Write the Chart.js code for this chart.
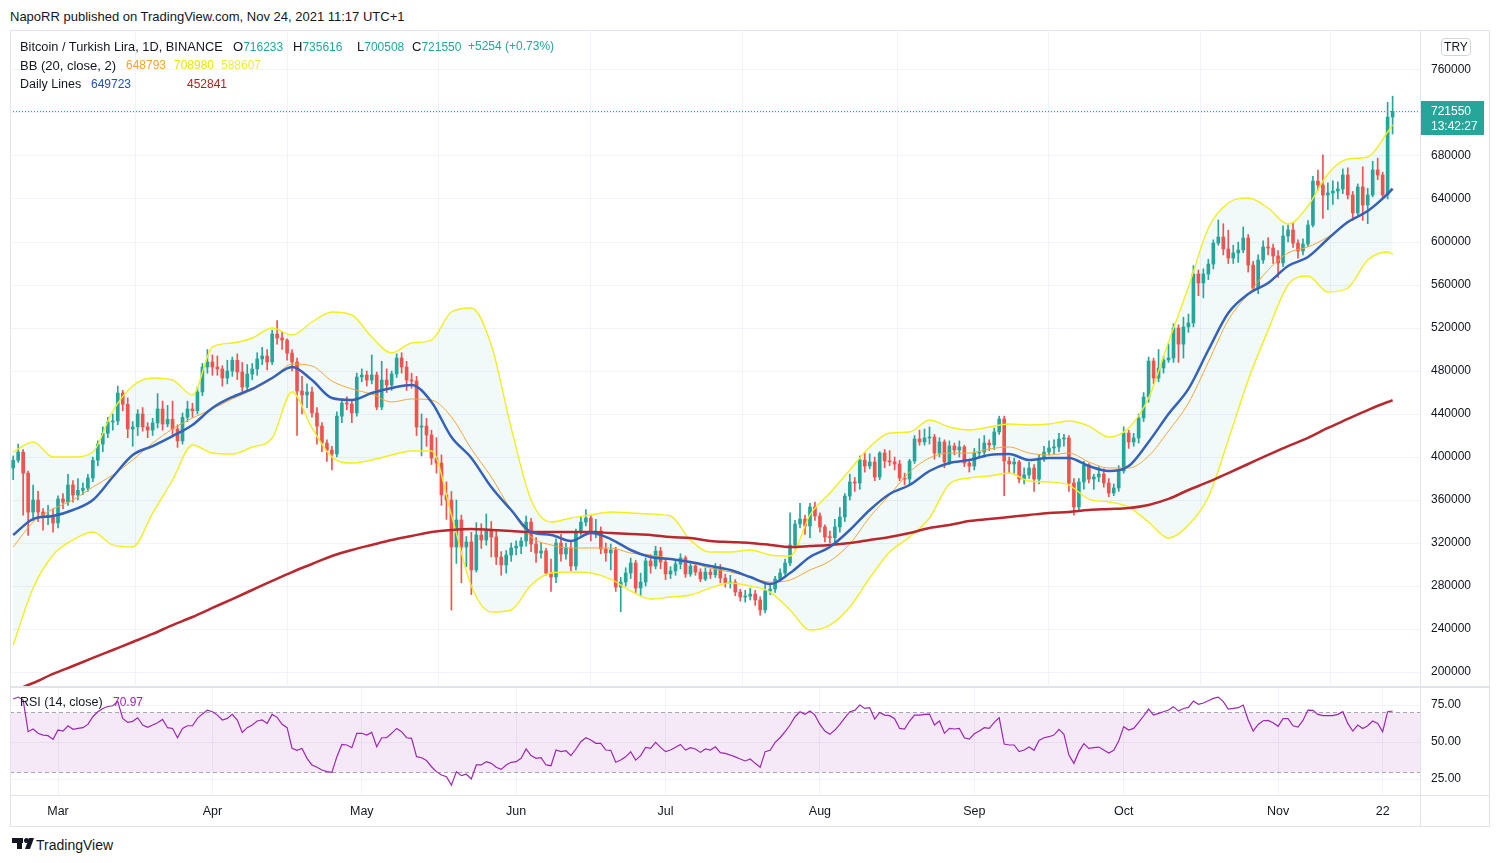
<!DOCTYPE html>
<html>
<head>
<meta charset="utf-8">
<script src="https://cdn.jsdelivr.net/npm/chart.js@4.4.0/dist/chart.umd.min.js"></script>
<style>
  body { margin: 0; background: #fff; font-family: "Liberation Sans", Arial, sans-serif; color: #131722; }
  #page { position: relative; width: 1500px; height: 863px; overflow: hidden; background: #fff; }
  .t { position: absolute; white-space: nowrap; font-size: 13px; line-height: 15px; }
  .n { font-size: 12px; }
  .g { color: #26a69a; }
  .ln { position: absolute; background: #e0e3eb; }
  canvas { position: absolute; }
</style>
</head>
<body>
<div id="page">
  <div class="t" style="left:10px;top:9px">NapoRR published on TradingView.com, Nov 24, 2021 11:17 UTC+1</div>

  <canvas id="mainChart" width="1480" height="656" style="left:10px;top:30px;width:1480px;height:656px"></canvas>
  <canvas id="rsiChart" width="1480" height="139" style="left:10px;top:687px;width:1480px;height:139px"></canvas>

  <!-- frame and panel separators -->
  <div class="ln" style="left:10px;top:30px;width:1480px;height:1px"></div>
  <div class="ln" style="left:10px;top:826px;width:1480px;height:1px"></div>
  <div class="ln" style="left:10px;top:30px;width:1px;height:797px"></div>
  <div class="ln" style="left:1489px;top:30px;width:1px;height:797px"></div>
  <div class="ln" style="left:1420px;top:30px;width:1px;height:797px"></div>
  <div class="ln" style="left:10px;top:686px;width:1480px;height:2px"></div>
  <div class="ln" style="left:10px;top:795px;width:1480px;height:1px"></div>

  <!-- legend -->
  <div class="t" style="left:20px;top:39px;font-size:12.8px">Bitcoin / Turkish Lira, 1D, BINANCE</div>
  <div class="t" style="left:233px;top:39px">O<span class="g n">716233</span></div>
  <div class="t" style="left:293px;top:39px">H<span class="g n">735616</span></div>
  <div class="t" style="left:357px;top:39px">L<span class="g n">700508</span></div>
  <div class="t" style="left:412px;top:39px">C<span class="g n">721550</span></div>
  <div class="t g n" style="left:468px;top:39px;line-height:15px">+5254 (+0.73%)</div>

  <div class="t" style="left:20px;top:58px">BB (20, close, 2)</div>
  <div class="t n" style="left:126px;top:58px;color:#f5a623">648793</div>
  <div class="t n" style="left:174px;top:58px;color:#efe300">708980</div>
  <div class="t n" style="left:221px;top:58px;color:#f0ec3a">588607</div>

  <div class="t" style="left:20px;top:77px;font-size:12.5px">Daily Lines</div>
  <div class="t n" style="left:91px;top:77px;color:#1f4fc0">649723</div>
  <div class="t n" style="left:187px;top:77px;color:#b71c1c">452841</div>

  <div class="t" style="left:20px;top:695px;font-size:12.5px">RSI (14, close)</div>
  <div class="t n" style="left:113px;top:695px;color:#9c27b0">70.97</div>

  <div style="position:absolute;left:1441px;top:38px;width:28px;height:16px;border:1px solid #d1d4dc;border-radius:4px;font-size:12px;line-height:16px;text-align:center;">TRY</div>

  <!-- logo -->
  <div style="position:absolute;left:12px;top:838px;width:11px;height:5px;background:#131722"></div>
  <div style="position:absolute;left:17px;top:843px;width:5px;height:6px;background:#131722"></div>
  <div style="position:absolute;left:24px;top:838px;width:5px;height:5px;border-radius:50%;background:#131722"></div>
  <div style="position:absolute;left:27px;top:838px;width:5px;height:11px;background:#131722;transform:skewX(-20deg)"></div>
  <div class="t" style="left:36px;top:837px;font-size:14px;line-height:16px">TradingView</div>
</div>

<script>
// day index: 0 = Mar 1 2021, first candle -9 (Feb 20), last 268 (Nov 24)
const firstDay = -9;
const firstOpen = 389.8;   // thousands of TRY

const closes = [397.0,404.6,385.0,348.8,360.0,348.8,344.0,346.0,338.6,
  361.0,358.0,374.0,364.7,369.0,371.0,380.5,397.0,412.0,422.0,
  432.6,433.5,459.5,449.0,426.0,428.0,440.0,428.0,425.0,431.7,
  444.7,430.7,435.0,426.0,415.0,437.0,444.7,443.0,460.5,483.7,
  488.4,483.7,481.9,473.5,480.0,490.0,479.1,465.1,477.2,481.9,
  491.2,494.0,488.4,514.4,510.7,508.8,496.7,488.4,461.4,457.7,
  460.5,441.0,428.8,413.0,406.5,402.8,438.0,450.2,449.3,441.0,
  474.4,476.3,471.6,476.3,446.5,471.6,467.0,477.2,492.1,483.7,
  471.6,470.7,427.9,428.8,420.5,399.0,394.4,364.7,360.0,316.3,
  341.4,316.3,321.0,295.0,327.5,322.8,332.1,325.6,307.0,299.6,
  308.8,315.4,317.0,321.9,339.5,319.1,310.7,312.6,292.1,288.4,
  320.0,309.8,315.4,298.6,330.2,339.5,343.3,329.3,331.2,314.4,
  310.7,313.5,279.1,283.7,292.1,301.4,278.2,283.7,303.3,298.6,
  312.6,302.3,291.2,294.0,300.5,306.1,291.2,298.6,293.0,286.5,
  293.0,290.5,297.2,287.4,282.8,283.7,274.4,269.8,270.5,272.6,
  267.0,257.7,275.4,277.2,286.5,292.1,301.4,318.2,337.7,342.3,
  335.8,353.5,345.2,334.9,325.6,325.0,334.9,344.2,363.7,376.8,
  375.8,397.2,391.6,395.4,381.4,403.7,396.3,395.5,393.5,380.5,
  379.5,396.3,416.8,414.0,417.7,418.6,403.7,414.0,395.4,410.3,
  406.5,409.4,394.4,391.6,403.7,404.6,413.0,411.2,423.3,435.4,
  396.3,393.5,395.4,379.5,383.3,389.8,379.5,399.0,404.6,408.4,
  409.4,416.8,417.7,375.8,353.5,376.8,392.6,379.5,381.4,384.2,
  375.8,366.5,371.2,387.0,422.3,414.0,417.7,436.3,455.8,489.3,
  473.5,482.8,490.3,492.1,520.0,505.0,521.0,524.7,570.2,561.9,
  570.2,579.5,599.0,604.6,593.5,585.1,589.8,592.6,603.7,578.6,
  557.2,583.3,595.4,594.4,587.0,580.5,605.6,611.2,599.0,591.6,
  598.1,615.8,656.7,653.0,643.7,645.6,647.4,649.3,662.3,643.7,
  627.0,651.2,634.4,643.7,667.0,662.3,643.7,716.233,721.55];

const highs = [401,412,407,387,374,368,352,355,352,
  364,366,384,378,380,376,384,400,415,428,
  437,440,466,462,455,433,444,446,432,436,
  459,452,448,452,430,441,452,450,465,487,
  500,495,494,485,490,493,496,488,486,487,
  497,502,500,518,527,516,510,500,492,475,
  468,465,446,432,416,410,442,454,456,452,
  478,482,480,495,479,489,482,480,496,497,
  489,478,475,440,436,425,418,402,377,368,
  360,346,326,330,339,338,347,340,331,312,
  313,320,322,325,345,343,325,320,315,305,
  324,328,320,322,333,344,351,346,342,335,
  320,319,316,288,297,306,304,292,306,309,
  317,316,305,298,304,310,308,302,301,296,
  297,296,301,300,291,290,286,277,276,278,
  276,270,282,281,289,296,305,348,341,357,
  346,357,358,348,337,331,342,353,366,384,
  381,401,404,403,400,405,407,406,400,397,
  385,398,420,425,426,428,421,418,416,415,
  413,415,411,398,408,417,420,416,427,438,
  438,400,399,397,390,395,393,402,410,415,
  416,422,421,420,380,380,396,394,384,391,
  389,380,375,392,428,425,422,440,460,493,
  492,500,494,505,524,523,530,533,578,574,
  575,584,602,620.5,617,611,597,600,614,607,
  582,588,601,604,598,592,615,616,618,602,
  603,620,661,667,681,655,657,656,668,669,
  647,654,670,650,675,678,665,730,735.616];

const lows = [379,395,346,327,341,340,332,337,330,
  334,352,355,358,360,365,368,377,392,405,
  418,425,430,443,418,410,420,424,418,420,
  427,425,428,420,409,412,433,437,440,457,
  478,476,476,466,468,475,472,461,461,472,
  476,486,481,486,505,500,490,480,420,440,
  446,437,412,405,396,388,400,432,444,432,
  438,470,466,468,444,444,460,462,474,478,
  462,464,420,401,410,393,385,355,342,257.7,
  301,283,298,272,293,315,318,307,300,290,
  292,303,309,310,317,312,302,306,290,275,
  283,303,305,294,295,327,336,322,325,310,
  303,295,275,256,280,287,274,271,280,292,
  296,296,286,287,290,296,288,289,290,284,
  285,287,288,283,279,278,271,266,265,267,
  262,253,255,272,274,284,290,299,315,334,
  328,325,341,330,321,320,321,330,340,360,
  368,370,386,389,378,379,390,392,388,378,
  374,375,394,411,411,412,398,400,390,393,
  402,400,391,386,388,400,400,406,407,421,
  364,385,385,376,375,380,368,375,396,402,
  403,405,410,368,346,350,370,376,370,377,
  372,363,364,368,385,408,410,413,433,451,
  468,470,478,488,488,488,492,516,521,550,
  548,565,575,597,588,580,580,581,590,572,
  554,552,580,588,580,567,577,600,595,585,
  588,596,614,648,622,630,635,640,645,640,
  620,625,620,617,642,658,640,640,700.508];

// indicator lines every 4 days
const lineDays = [-9,-5,-1,3,7,11,15,19,23,27,31,35,39,43,47,51,55,59,63,67,71,75,79,83,87,91,95,99,
  103,107,111,115,119,123,127,131,135,139,143,147,151,155,159,163,167,171,175,179,183,187,191,195,199,
  203,207,211,215,219,223,227,231,235,239,243,247,251,255,259,263,267,268];

const bbUpper = [404.7,414.0,400.0,400.0,404.7,442.8,466.1,473.5,471.6,457.7,
  502.3,506.0,510.7,520.0,513.5,525.6,534.9,532.1,511.6,496.8,
  506.0,508.8,534.9,538.6,504.2,427.0,360.0,339.5,343.3,346.1,
  348.9,347.9,347.0,345.1,322.8,311.6,311.6,313.5,308.9,307.9,
  346.1,366.5,387.9,409.3,422.3,423.3,434.4,427.9,425.1,427.9,
  430.7,429.8,430.7,433.5,428.8,418.6,427.0,454.9,507.0,558.1,
  613.0,636.3,640.9,631.6,616.7,633.5,663.3,677.2,679.1,702.3,709.0];

const bbBasis = [316.3,339.5,351.6,360.0,372.1,383.3,397.2,413.0,426.1,436.3,
  444.7,454.0,462.3,472.6,486.5,484.7,470.7,463.3,458.6,451.2,
  454.0,453.0,437.2,407.5,381.4,350.7,325.6,318.2,315.4,315.4,
  315.4,310.7,308.9,305.1,301.4,296.8,293.0,288.4,283.7,285.6,
  294.9,303.3,319.1,344.2,364.7,386.1,399.1,403.7,403.7,407.5,
  409.3,403.7,401.9,403.7,395.4,389.8,389.8,400.9,424.2,450.2,
  488.4,527.4,551.6,573.9,589.8,595.4,604.7,617.7,629.8,643.7,648.8];

const bbLower = [225.1,278.2,308.9,322.8,330.2,318.2,316.3,347.9,378.6,411.2,
  403.7,402.8,409.3,417.7,460.5,427.0,400.0,394.4,397.2,401.9,
  405.6,405.6,346.1,280.0,255.8,257.7,280.9,292.1,293.0,292.1,
  286.5,275.4,267.9,269.8,271.6,278.2,282.8,280.0,274.4,257.7,
  239.1,243.7,260.5,287.5,311.6,325.6,343.3,374.9,380.5,382.3,
  385.1,377.7,376.8,373.9,360.9,358.2,353.5,339.5,324.7,336.8,
  362.8,415.8,471.6,518.1,560.0,568.4,553.5,557.2,583.3,590.7,588.6];

const dailyFast = [327.5,342.3,345.1,350.7,360.0,381.4,401.9,410.2,419.5,429.8,
  445.6,455.8,463.3,473.5,483.7,471.6,454.9,453.0,459.5,464.2,
  467.0,451.2,418.6,399.1,372.1,350.7,330.2,327.5,321.9,329.3,
  323.7,313.5,307.0,305.1,302.3,298.6,294.9,288.4,281.9,292.1,
  307.0,316.3,332.1,350.7,365.6,374.0,387.0,394.4,397.2,401.9,
  402.8,397.2,399.1,399.1,391.6,387.0,391.6,414.0,440.0,463.3,
  499.5,534.0,551.6,561.9,577.7,586.1,602.8,618.6,628.8,644.7,649.7];

const dailySlow = [182.3,189.8,198.2,205.6,213.1,220.5,227.9,235.4,243.7,251.2,
  259.6,267.9,276.3,284.7,293.0,300.5,307.9,313.5,318.2,322.8,
  326.5,330.2,332.1,333.0,332.1,331.2,330.2,330.2,330.2,330.2,
  329.3,328.4,327.5,325.6,324.7,321.9,320.9,320.0,318.2,316.3,
  317.2,318.2,320.0,322.8,325.6,329.3,334.0,336.8,340.5,342.3,
  344.2,346.1,347.9,348.9,350.7,351.6,352.6,355.4,361.0,369.3,
  376.8,385.1,393.5,401.9,410.2,417.7,427.0,435.4,443.7,451.2,452.8];

const rsiValues = [79.1,80.4,78.4,57.0,58.8,55.9,54.7,54.3,51.8,
  58.1,57.4,61.0,58.6,59.2,59.7,61.9,67.1,70.5,72.7,
  74.0,74.5,77.3,66.0,63.3,64.0,66.4,61.5,59.9,61.5,
  63.0,65.3,59.7,59.2,52.9,59.2,61.0,61.0,66.0,69.0,
  71.6,70.5,68.2,64.9,66.0,68.7,64.9,56.5,59.7,61.5,
  64.2,64.9,62.6,68.7,66.7,62.0,59.7,45.7,44.4,45.7,
  39.0,34.5,33.0,31.1,30.0,29.5,40.1,48.4,48.0,46.2,
  55.9,55.9,54.7,56.5,46.8,52.9,52.9,55.9,59.2,57.0,
  52.9,52.5,40.1,39.4,37.5,33.3,30.0,27.7,26.6,20.9,
  30.0,27.3,28.2,25.0,34.5,34.5,36.7,35.6,33.0,31.5,
  34.5,36.3,36.7,39.0,45.3,40.8,39.0,39.4,34.5,34.0,
  44.6,43.5,44.1,40.8,45.3,50.2,52.9,51.4,49.1,49.1,
  44.6,44.4,36.3,37.8,40.0,43.5,37.8,40.8,46.4,45.7,
  49.8,46.4,43.5,44.6,46.5,48.4,44.6,46.2,45.3,43.0,
  45.3,44.6,46.8,42.8,42.3,41.2,40.0,38.5,37.2,38.5,
  35.6,32.9,43.5,44.4,49.8,52.9,57.0,61.5,67.1,70.5,
  68.7,70.9,68.2,61.9,57.4,55.2,58.1,61.9,66.4,70.5,
  71.4,75.0,72.7,73.2,65.5,70.0,68.2,67.8,65.8,59.2,
  58.8,64.2,68.2,68.2,68.7,68.9,61.5,64.2,55.9,59.2,
  58.8,59.2,52.9,52.0,55.6,57.4,59.7,59.2,63.3,66.4,
  48.6,48.0,48.0,43.5,44.6,46.6,44.4,51.1,52.9,53.6,
  54.7,58.6,55.2,41.2,35.6,43.5,48.9,45.7,46.2,46.6,
  44.6,42.6,44.4,50.7,60.4,58.1,59.2,63.3,67.6,72.3,
  68.2,69.4,70.5,71.6,73.9,70.9,72.7,73.4,77.7,75.5,
  76.4,77.9,79.5,80.4,77.3,72.3,72.7,73.2,75.0,64.9,
  57.4,61.9,64.4,64.6,63.1,60.6,65.8,65.8,61.0,60.1,
  64.6,71.6,71.4,68.7,67.8,67.8,67.8,68.7,70.5,62.6,
  57.4,61.5,59.2,61.0,64.2,62.6,57.0,70.5,70.97];

const monthDays = [0, 31, 61, 92, 122, 153, 184, 214, 245, 266];
const monthLabels = ['Mar', 'Apr', 'May', 'Jun', 'Jul', 'Aug', 'Sep', 'Oct', 'Nov', '22'];
const priceTicks = [200000,240000,280000,320000,360000,400000,440000,480000,520000,560000,600000,640000,680000,720000,760000];
const rsiTicks = [25, 50, 75];

const K = 1000;
const green = '#26a69a', red = '#ef5350';
const xMin = -9.64, xMax = 273.5;
const axisFont = { family: '"Liberation Sans", Arial, sans-serif', size: 12 };

const days = closes.map((c, i) => firstDay + i);
const opens = closes.map((c, i) => i === 0 ? firstOpen : closes[i - 1]);
const candleColors = closes.map((c, i) => c >= opens[i] ? green : red);
const lastClose = closes[closes.length - 1] * K;

const toLine = arr => lineDays.map((d, i) => ({ x: d, y: arr[i] * K }));

const priceLinePlugin = {
  id: 'priceLine',
  beforeDatasetsDraw(chart) {
    const { ctx, chartArea, scales } = chart;
    const y = Math.round(scales.y.getPixelForValue(lastClose)) + 0.5;
    ctx.save();
    ctx.strokeStyle = green;
    ctx.lineWidth = 1;
    ctx.setLineDash([1, 2]);
    ctx.beginPath();
    ctx.moveTo(chartArea.left, y);
    ctx.lineTo(chartArea.right, y);
    ctx.stroke();
    ctx.restore();
  },
  afterDraw(chart) {
    const { ctx, chartArea, scales } = chart;
    const y = Math.round(scales.y.getPixelForValue(lastClose));
    ctx.save();
    ctx.fillStyle = green;
    ctx.fillRect(chartArea.right + 1, y - 10, 63, 34);
    ctx.fillStyle = '#fff';
    ctx.font = '12px "Liberation Sans", Arial, sans-serif';
    ctx.textBaseline = 'middle';
    ctx.fillText('721550', chartArea.right + 11, y + 1);
    ctx.fillText('13:42:27', chartArea.right + 11, y + 16);
    ctx.restore();
  }
};

const mainCtx = document.getElementById('mainChart').getContext('2d');
new Chart(mainCtx, {
  type: 'bar',
  data: {
    datasets: [
      { type: 'line', data: toLine(bbUpper), borderColor: '#f2ef1c', borderWidth: 1.4, pointRadius: 0,
        cubicInterpolationMode: 'monotone', fill: '+1', backgroundColor: 'rgba(38,166,154,0.06)', order: 5 },
      { type: 'line', data: toLine(bbLower), borderColor: '#f2ef1c', borderWidth: 1.4, pointRadius: 0,
        cubicInterpolationMode: 'monotone', fill: false, order: 5 },
      { type: 'line', data: toLine(bbBasis), borderColor: '#f3a63c', borderWidth: 1, pointRadius: 0,
        cubicInterpolationMode: 'monotone', fill: false, order: 4 },
      { type: 'line', data: toLine(dailySlow), borderColor: '#b8282e', borderWidth: 2.5, pointRadius: 0,
        cubicInterpolationMode: 'monotone', fill: false, order: 3 },
      { type: 'line', data: toLine(dailyFast), borderColor: '#3462b8', borderWidth: 2.5, pointRadius: 0,
        cubicInterpolationMode: 'monotone', fill: false, order: 2 },
      { type: 'bar', data: days.map((d, i) => ({ x: d, y: [lows[i] * K, highs[i] * K] })),
        backgroundColor: candleColors, barThickness: 1, grouped: false, order: 10 },
      { type: 'bar', data: days.map((d, i) => ({ x: d, y: [opens[i] * K, closes[i] * K] })),
        backgroundColor: candleColors, barThickness: 3, minBarLength: 1, grouped: false, order: 9 }
    ]
  },
  options: {
    responsive: false,
    animation: false,
    devicePixelRatio: 1,
    layout: { padding: 0 },
    plugins: {
      legend: { display: false },
      tooltip: { enabled: false },
      filler: { drawTime: 'beforeDatasetsDraw' }
    },
    scales: {
      x: {
        type: 'linear', min: xMin, max: xMax, offset: false,
        grid: { color: '#f0f3fa', drawTicks: false },
        border: { display: false },
        ticks: { display: false },
        afterBuildTicks: s => { s.ticks = monthDays.map(v => ({ value: v })); },
        afterFit: s => { s.height = 0; s.paddingLeft = 0; s.paddingRight = 0; }
      },
      y: {
        position: 'right', min: 187000, max: 797200,
        grid: { color: '#f0f3fa', drawTicks: false },
        border: { display: false },
        ticks: { color: '#131722', font: axisFont, padding: 11, callback: v => String(v) },
        afterBuildTicks: s => { s.ticks = priceTicks.map(v => ({ value: v })); },
        afterFit: s => { s.width = 70; s.paddingTop = 0; s.paddingBottom = 0; }
      }
    }
  },
  plugins: [priceLinePlugin]
});

const rsiBandPlugin = {
  id: 'rsiBand',
  beforeDatasetsDraw(chart) {
    const { ctx, chartArea, scales } = chart;
    const y70 = Math.round(scales.y.getPixelForValue(70)) + 0.5;
    const y30 = Math.round(scales.y.getPixelForValue(30)) + 0.5;
    ctx.save();
    ctx.fillStyle = 'rgba(156,39,176,0.1)';
    ctx.fillRect(chartArea.left, y70, chartArea.right - chartArea.left, y30 - y70);
    ctx.strokeStyle = '#a9a4b4';
    ctx.lineWidth = 1;
    ctx.setLineDash([4, 3]);
    [y70, y30].forEach(y => {
      ctx.beginPath();
      ctx.moveTo(chartArea.left, y);
      ctx.lineTo(chartArea.right, y);
      ctx.stroke();
    });
    ctx.restore();
  }
};

const rsiCtx = document.getElementById('rsiChart').getContext('2d');
new Chart(rsiCtx, {
  type: 'line',
  data: {
    datasets: [{
      data: days.map((d, i) => ({ x: d, y: rsiValues[i] })),
      borderColor: '#9c27b0', borderWidth: 1.2, pointRadius: 0, tension: 0, fill: false
    }]
  },
  options: {
    responsive: false,
    animation: false,
    devicePixelRatio: 1,
    layout: { padding: 0 },
    plugins: { legend: { display: false }, tooltip: { enabled: false } },
    scales: {
      x: {
        type: 'linear', min: xMin, max: xMax, offset: false,
        grid: { color: '#f0f3fa', drawTicks: false },
        border: { display: false },
        ticks: { color: '#131722', font: { family: axisFont.family, size: 12.5 }, padding: 9, maxRotation: 0,
          callback: v => monthLabels[monthDays.indexOf(v)] },
        afterBuildTicks: s => { s.ticks = monthDays.map(v => ({ value: v })); },
        afterFit: s => { s.height = 31; s.paddingLeft = 0; s.paddingRight = 0; }
      },
      y: {
        position: 'right', min: 14.2, max: 87.2,
        grid: { color: '#f0f3fa', drawTicks: false },
        border: { display: false },
        ticks: { color: '#131722', font: axisFont, padding: 11, callback: v => v.toFixed(2) },
        afterBuildTicks: s => { s.ticks = rsiTicks.map(v => ({ value: v })); },
        afterFit: s => { s.width = 70; s.paddingTop = 0; s.paddingBottom = 0; }
      }
    }
  },
  plugins: [rsiBandPlugin]
});
</script>
</body>
</html>
